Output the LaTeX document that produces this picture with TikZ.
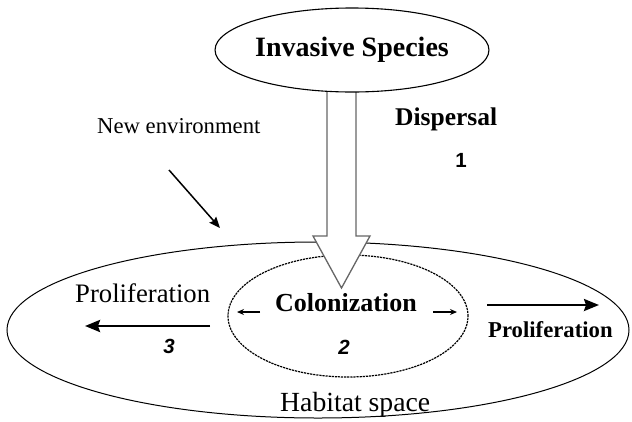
\documentclass[tikz,border=0pt]{standalone}
\usepackage{fontspec}
\setmainfont{Liberation Serif}
\newfontfamily\numfont{Liberation Sans}
\usetikzlibrary{shapes.geometric,arrows.meta,calc}
\begin{document}
\begin{tikzpicture}[x=1pt,y=-1pt,
  ell/.style={draw, ellipse, inner sep=0pt, line width=1pt},
  lbl/.style={inner sep=0pt, anchor=base west},
  num/.style={inner sep=0pt, font=\numfont\bfseries\fontsize{20.5}{20.5}\selectfont},
  inum/.style={num, font=\numfont\bfseries\itshape\fontsize{20.5}{20.5}\selectfont},
  bigarrow/.style={draw=black!60, fill=white, line width=1.3pt, line join=miter},
  smallarr/.style={-{Stealth[length=7pt,width=6pt]}, line width=1.2pt},
  midarr/.style={-{Stealth[length=11pt,width=9pt,inset=1.5pt]}, line width=1.5pt},
  fatarr/.style={-{Stealth[length=15pt,width=12pt,inset=2pt]}, line width=2.6pt},
]
\useasboundingbox (0,0) rectangle (632,421);
% habitat space
\node[ell, minimum width=622pt, minimum height=176pt] (hab) at (318,330) {};
% colonization ellipse
\node[ell, line width=1.2pt, dash pattern=on 2.2pt off 0.9pt, minimum width=240pt, minimum height=122pt] (col) at (348,316) {};
% big hollow arrow (dispersal)
\coordinate (tip) at (341.5,288);
\draw[bigarrow] (327,92) -- (327,236) -- (313,236) -- (tip) -- (370,236) -- (356,236) -- (356,92);
% invasive species
\node[ell, line width=1.1pt, minimum width=268pt, minimum height=84pt,
      font=\bfseries\fontsize{28}{28}\selectfont] (inv) at (352,50) {Invasive Species};
% texts
\node[lbl, font=\fontsize{22.7}{22.7}\selectfont] (newenv) at (97,133) {New environment};
\node[lbl, font=\bfseries\fontsize{25.5}{25.5}\selectfont] (disp) at (395,125) {Dispersal};
\node[num] (one) at (461,160) {1};
\node[lbl, font=\bfseries\fontsize{26}{26}\selectfont] (colt) at (275,311) {Colonization};
\node[inum] (two) at (344,347) {2};
\node[inum] (three) at (169,346) {3};
\node[lbl, font=\fontsize{26.7}{26.7}\selectfont] (prolL) at (75,302) {Proliferation};
\node[lbl, font=\bfseries\fontsize{22.7}{22.7}\selectfont] (prolR) at (488,337) {Proliferation};
\node[lbl, font=\fontsize{27.7}{27.7}\selectfont] (habt) at (280,411) {Habitat space};
% arrows
\coordinate (ne1) at (169,170);
\coordinate (ne2) at (220,228);
\draw[midarr] (ne1) -- (ne2);
\coordinate (cl1) at (260,312);
\coordinate (cl2) at (237,312);
\draw[smallarr] (cl1) -- (cl2);
\coordinate (cr1) at (433,312);
\coordinate (cr2) at (457,312);
\draw[smallarr] (cr1) -- (cr2);
\coordinate (pl1) at (210,326);
\coordinate (pl2) at (85,326);
\draw[fatarr] (pl1) -- (pl2);
\coordinate (pr1) at (487,305);
\coordinate (pr2) at (599,305);
\draw[fatarr, line width=2.3pt] (pr1) -- (pr2);
\end{tikzpicture}
\end{document}
